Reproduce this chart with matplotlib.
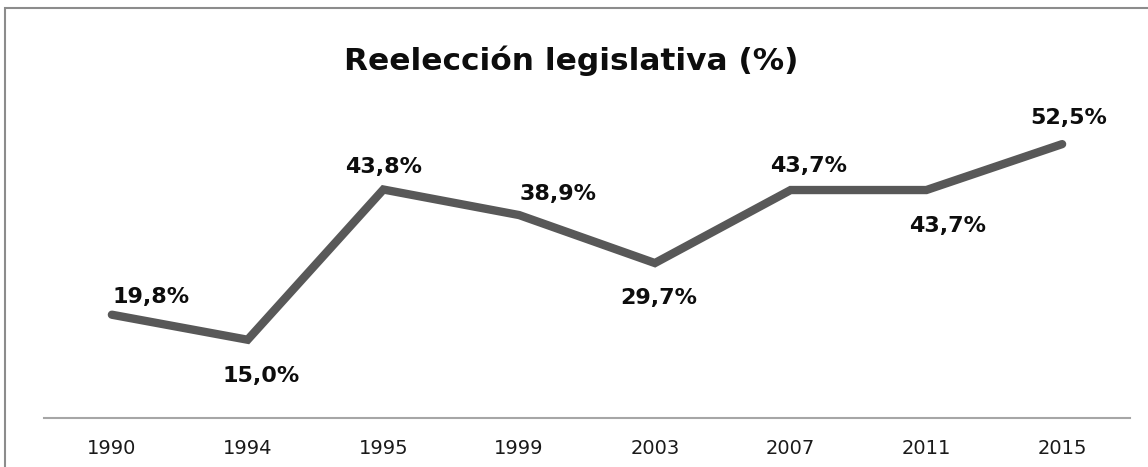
import matplotlib
matplotlib.use("Agg")
import matplotlib.pyplot as plt
from matplotlib.patches import Rectangle

years = ["1990", "1994", "1995", "1999", "2003", "2007", "2011", "2015"]
values = [19.8, 15.0, 43.8, 38.9, 29.7, 43.7, 43.7, 52.5]
labels = ["19,8%", "15,0%", "43,8%", "38,9%", "29,7%", "43,7%", "43,7%", "52,5%"]
# label offsets in points (dx, dy)
offsets = [(28, 13), (10, -26), (0, 16), (28, 15), (3, -25), (13, 17), (15, -26), (5, 19)]

W, H = 1148, 467
fig = plt.figure(figsize=(W / 100, H / 100), dpi=100)
fig.patch.set_facecolor("white")

# outer chart frame
fig.patches.append(Rectangle((5 / W, -0.05), 1.2, 1 - 8 / H + 0.05, transform=fig.transFigure,
                             fill=False, edgecolor="#8c8c8c", linewidth=1.5))

ax = fig.add_axes([44 / W, 1 - 418 / H, (1130 - 44) / W, (418 - 105) / H])
x = list(range(len(years)))
ax.plot(x, values, color="#585858", linewidth=6, solid_capstyle="round", solid_joinstyle="miter")
ax.set_xlim(-0.5, len(years) - 0.5)
ax.set_ylim(0, 60)
ax.set_xticks(x)
ax.set_xticklabels(years, fontsize=14, color="#1a1a1a")
ax.tick_params(axis="x", length=0, pad=15)
ax.set_yticks([])
for s in ["top", "right", "left"]:
    ax.spines[s].set_visible(False)
ax.spines["bottom"].set_color("#a6a6a6")
ax.spines["bottom"].set_linewidth(1.5)

for xi, v, lab, (dx, dy) in zip(x, values, labels, offsets):
    ax.annotate(lab, (xi, v), xytext=(dx, dy), textcoords="offset points",
                ha="center", va="center", fontsize=16, fontweight="bold", color="#0d0d0d")

fig.text(571 / W, 1 - 61 / H, "Reelección legislativa (%)", ha="center", va="center",
         fontsize=22.5, fontweight="bold", color="#0d0d0d")

fig.savefig("out.png", dpi=100)
